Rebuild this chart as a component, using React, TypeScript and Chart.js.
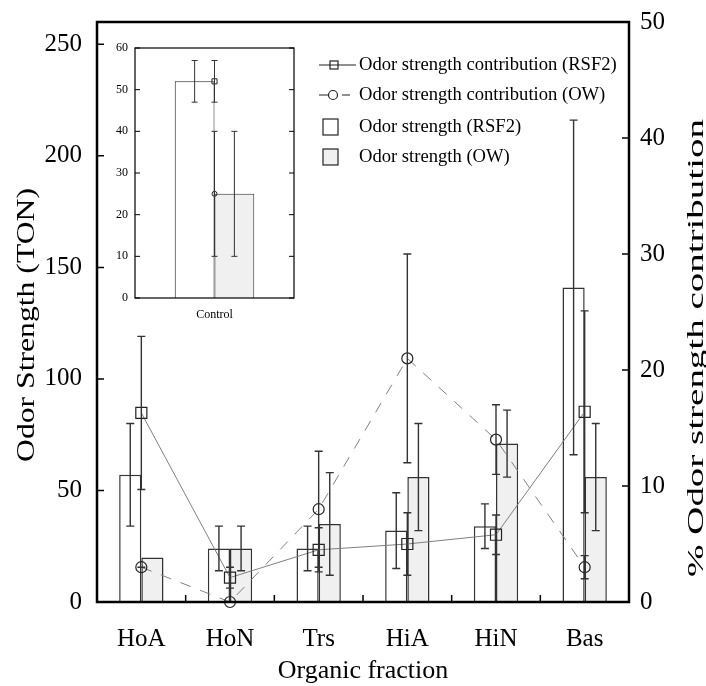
import React, { useEffect, useRef } from "react";
import { Chart, registerables } from "chart.js";
Chart.register(...registerables);

// ---------- data ----------
const categories = ["HoA", "HoN", "Trs", "HiA", "HiN", "Bas"];
const strengthRSF2 = [57, 24, 24, 32, 34, 141];
const strengthRSF2Err: (number | null)[] = [23, 10, 10, 17, 10, 75];
const strengthOW = [20, 24, 35, 56, 71, 56];
const strengthOWErr: (number | null)[] = [null, 10, 23, 24, 15, 24];
const contribRSF2 = [16.3, 2.1, 4.5, 5.0, 5.8, 16.4];
const contribRSF2Err: (number | null)[] = [6.6, 0.9, 1.9, 2.7, 1.7, 8.7];
const contribOW = [3, 0, 8, 21, 14, 3];
const contribOWErr: (number | null)[] = [0, null, 5, 9, 3, 1];
const leftTicks = [0, 50, 100, 150, 200, 250];
const rightTicks = [0, 10, 20, 30, 40, 50];

const insetCategories = ["Control"];
const insetStrengthRSF2 = [52];
const insetStrengthRSF2Err: (number | null)[] = [5];
const insetStrengthOW = [25];
const insetStrengthOWErr: (number | null)[] = [15];
const insetContribRSF2 = [52];
const insetContribRSF2Err: (number | null)[] = [5];
const insetContribOW = [25];
const insetContribOWErr: (number | null)[] = [15];
const insetTicks = [0, 10, 20, 30, 40, 50, 60];

const legendLabels = [
  "Odor strength contribution (RSF2)",
  "Odor strength contribution (OW)",
  "Odor strength (RSF2)",
  "Odor strength (OW)",
];

const SERIF = "'Liberation Serif', 'Times New Roman', serif";
Chart.defaults.font.family = SERIF;

// ---------- plugins ----------
function errorBarPlugin(cap: number, width: number, color: string) {
  return {
    id: "errorBars",
    afterDatasetsDraw(chart: any) {
      const ctx = chart.ctx;
      ctx.save();
      ctx.strokeStyle = color;
      ctx.lineWidth = width;
      chart.data.datasets.forEach((ds: any, i: number) => {
        if (!ds.errors) return;
        const meta = chart.getDatasetMeta(i);
        const scale = chart.scales[meta.yAxisID];
        meta.data.forEach((el: any, j: number) => {
          const e = ds.errors[j];
          if (e === null || e === undefined) return;
          const v = ds.data[j];
          const x = el.x;
          const yt = scale.getPixelForValue(v + e);
          const yb = scale.getPixelForValue(Math.max(0, v - e));
          ctx.beginPath();
          ctx.moveTo(x, yt);
          ctx.lineTo(x, yb);
          ctx.moveTo(x - cap, yt);
          ctx.lineTo(x + cap, yt);
          ctx.moveTo(x - cap, yb);
          ctx.lineTo(x + cap, yb);
          ctx.stroke();
        });
      });
      ctx.restore();
    },
  };
}

function framePlugin(opts: {
  width: number;
  tick: number;
  tickWidth: number;
  left: number[];
  leftAxis: string;
  right: number[];
  rightAxis: string;
  xTicks: boolean;
}) {
  return {
    id: "frame",
    afterDraw(chart: any) {
      const { ctx, chartArea: a } = chart;
      ctx.save();
      ctx.strokeStyle = "#000";
      ctx.lineWidth = opts.tickWidth;
      const ls = chart.scales[opts.leftAxis];
      const rs = chart.scales[opts.rightAxis];
      ctx.beginPath();
      opts.left.forEach((v) => {
        const y = ls.getPixelForValue(v);
        ctx.moveTo(a.left, y);
        ctx.lineTo(a.left + opts.tick, y);
      });
      opts.right.forEach((v) => {
        const y = rs.getPixelForValue(v);
        ctx.moveTo(a.right, y);
        ctx.lineTo(a.right - opts.tick, y);
      });
      if (opts.xTicks) {
        const xs = chart.scales.x;
        const n = chart.data.labels.length;
        for (let i = 0; i < n - 1; i++) {
          const x = (xs.getPixelForValue(i) + xs.getPixelForValue(i + 1)) / 2;
          ctx.moveTo(x, a.bottom);
          ctx.lineTo(x, a.bottom - opts.tick);
        }
      }
      ctx.stroke();
      ctx.lineWidth = opts.width;
      ctx.strokeRect(a.left, a.top, a.right - a.left, a.bottom - a.top);
      ctx.restore();
    },
  };
}

function drawVText(ctx: any, text: string, x: number, y: number, size: number, len: number) {
  ctx.save();
  ctx.font = `${size}px ${SERIF}`;
  const w = ctx.measureText(text).width;
  ctx.translate(x, y);
  ctx.rotate(-Math.PI / 2);
  ctx.scale(len / w, 1);
  ctx.textAlign = "center";
  ctx.textBaseline = "alphabetic";
  ctx.fillStyle = "#000";
  ctx.fillText(text, 0, 0);
  ctx.restore();
}

const annotationPlugin = {
  id: "annot",
  afterDraw(chart: any) {
    const ctx = chart.ctx;
    // axis titles
    drawVText(ctx, "Odor Strength (TON)", 34, 325, 26, 274);
    drawVText(ctx, "% Odor strength contribution", 703, 348, 24, 458);
    ctx.save();
    ctx.fillStyle = "#000";
    ctx.font = `26px ${SERIF}`;
    ctx.textAlign = "center";
    ctx.textBaseline = "alphabetic";
    ctx.fillText("Organic fraction", 363, 678);

    // legend
    const tx = 359;
    const rows = [65, 95, 127, 157];
    ctx.font = `18.6px ${SERIF}`;
    ctx.textAlign = "left";
    ctx.textBaseline = "middle";
    legendLabels.forEach((t, i) => ctx.fillText(t, tx, rows[i]));

    ctx.strokeStyle = "#222";
    ctx.lineWidth = 1.2;
    // row 1: solid line with square
    ctx.beginPath();
    ctx.moveTo(319, rows[0]);
    ctx.lineTo(356, rows[0]);
    ctx.stroke();
    ctx.strokeRect(330, rows[0] - 4, 8, 8);
    // row 2: dashed line with circle
    ctx.beginPath();
    ctx.moveTo(319, rows[1]);
    ctx.lineTo(328, rows[1]);
    ctx.moveTo(342, rows[1]);
    ctx.lineTo(350, rows[1]);
    ctx.stroke();
    ctx.beginPath();
    ctx.arc(333, rows[1], 4.5, 0, Math.PI * 2);
    ctx.stroke();
    // rows 3,4 boxes
    ctx.fillStyle = "#ffffff";
    ctx.fillRect(323, rows[2] - 8, 15, 16);
    ctx.strokeRect(323, rows[2] - 8, 15, 16);
    ctx.fillStyle = "#f0f0f0";
    ctx.fillRect(323, rows[3] - 8, 15, 16);
    ctx.strokeRect(323, rows[3] - 8, 15, 16);
    ctx.restore();
  },
};

const noPad = (s: any) => {
  s.paddingTop = 0;
  s.paddingBottom = 0;
  s.paddingLeft = 0;
  s.paddingRight = 0;
};

// ---------- component ----------
export default function App() {
  const mainRef = useRef<HTMLCanvasElement>(null);
  const insetRef = useRef<HTMLCanvasElement>(null);

  useEffect(() => {
    const tickFont = { size: 25, family: SERIF };
    const main = new Chart(mainRef.current!, {
      type: "bar",
      data: {
        labels: categories,
        datasets: [
          {
            type: "line",
            label: legendLabels[0],
            data: contribRSF2,
            errors: contribRSF2Err,
            yAxisID: "y1",
            borderColor: "#808080",
            borderWidth: 1,
            pointStyle: "rect",
            pointRadius: 7.8,
            pointBorderColor: "#222",
            pointBackgroundColor: "rgba(0,0,0,0)",
            pointBorderWidth: 1.2,
            clip: false,
          } as any,
          {
            type: "line",
            label: legendLabels[1],
            data: contribOW,
            errors: contribOWErr,
            yAxisID: "y1",
            borderColor: "#808080",
            borderWidth: 1,
            borderDash: [11, 10],
            pointStyle: "circle",
            pointRadius: 5.5,
            pointBorderColor: "#222",
            pointBackgroundColor: "rgba(0,0,0,0)",
            pointBorderWidth: 1.2,
            clip: false,
          } as any,
          {
            type: "bar",
            label: legendLabels[2],
            data: strengthRSF2,
            errors: strengthRSF2Err,
            yAxisID: "y",
            backgroundColor: "#ffffff",
            borderColor: "#333",
            borderWidth: 1.5,
            barPercentage: 1,
            categoryPercentage: 0.5,
          } as any,
          {
            type: "bar",
            label: legendLabels[3],
            data: strengthOW,
            errors: strengthOWErr,
            yAxisID: "y",
            backgroundColor: "#f0f0f0",
            borderColor: "#333",
            borderWidth: 1.5,
            barPercentage: 1,
            categoryPercentage: 0.5,
          } as any,
        ],
      },
      options: {
        animation: false,
        responsive: false,
        devicePixelRatio: 1,
        layout: { padding: { top: 22, left: 0, right: 0, bottom: 0 } },
        plugins: { legend: { display: false }, tooltip: { enabled: false } },
        scales: {
          x: {
            type: "category",
            offset: true,
            grid: { display: false, drawTicks: false },
            border: { display: false },
            ticks: { font: tickFont, color: "#000", padding: 22, maxRotation: 0 },
            afterFit: (s: any) => {
              s.height = 84;
              noPad(s);
            },
          },
          y: {
            position: "left",
            min: 0,
            max: 260,
            grid: { display: false, drawTicks: false },
            border: { display: false },
            ticks: { font: tickFont, color: "#000", padding: 15, includeBounds: false },
            afterBuildTicks: (s: any) => {
              s.ticks = leftTicks.map((v) => ({ value: v }));
            },
            afterFit: (s: any) => {
              s.width = 97;
              noPad(s);
            },
          },
          y1: {
            position: "right",
            min: 0,
            max: 50,
            grid: { display: false, drawTicks: false },
            border: { display: false },
            ticks: { font: tickFont, color: "#000", padding: 11, includeBounds: false },
            afterBuildTicks: (s: any) => {
              s.ticks = rightTicks.map((v) => ({ value: v }));
            },
            afterFit: (s: any) => {
              s.width = 77;
              noPad(s);
            },
          },
        },
      } as any,
      plugins: [
        errorBarPlugin(4, 1.4, "#333"),
        framePlugin({
          width: 2.5,
          tick: 7,
          tickWidth: 1.5,
          left: leftTicks,
          leftAxis: "y",
          right: rightTicks,
          rightAxis: "y1",
          xTicks: true,
        }),
        annotationPlugin,
      ],
    });

    const insetFont = { size: 12, family: SERIF };
    const inset = new Chart(insetRef.current!, {
      type: "bar",
      data: {
        labels: insetCategories,
        datasets: [
          {
            type: "line",
            data: insetContribRSF2,
            errors: insetContribRSF2Err,
            yAxisID: "y",
            borderColor: "#808080",
            borderWidth: 1,
            pointStyle: "rect",
            pointRadius: 3.6,
            pointBorderColor: "#222",
            pointBackgroundColor: "rgba(0,0,0,0)",
            pointBorderWidth: 1,
            clip: false,
          } as any,
          {
            type: "line",
            data: insetContribOW,
            errors: insetContribOWErr,
            yAxisID: "y",
            borderColor: "#808080",
            borderWidth: 1,
            pointStyle: "circle",
            pointRadius: 2.5,
            pointBorderColor: "#222",
            pointBackgroundColor: "rgba(0,0,0,0)",
            pointBorderWidth: 1,
            clip: false,
          } as any,
          {
            type: "bar",
            data: insetStrengthRSF2,
            errors: insetStrengthRSF2Err,
            yAxisID: "y",
            backgroundColor: "#ffffff",
            borderColor: "#222",
            borderWidth: 1,
            barPercentage: 1,
            categoryPercentage: 0.5,
          } as any,
          {
            type: "bar",
            data: insetStrengthOW,
            errors: insetStrengthOWErr,
            yAxisID: "y",
            backgroundColor: "#f0f0f0",
            borderColor: "#333",
            borderWidth: 1,
            barPercentage: 1,
            categoryPercentage: 0.5,
          } as any,
        ],
      },
      options: {
        animation: false,
        responsive: false,
        devicePixelRatio: 1,
        layout: { padding: { top: 8, left: 0, right: 6, bottom: 0 } },
        plugins: { legend: { display: false }, tooltip: { enabled: false } },
        scales: {
          x: {
            type: "category",
            offset: true,
            grid: { display: false, drawTicks: false },
            border: { display: false },
            ticks: { font: insetFont, color: "#000", padding: 10, maxRotation: 0 },
            afterFit: (s: any) => {
              s.height = 32;
              noPad(s);
            },
          },
          y: {
            position: "left",
            min: 0,
            max: 60,
            grid: { display: false, drawTicks: false },
            border: { display: false },
            ticks: { font: insetFont, color: "#000", padding: 7, includeBounds: false },
            afterBuildTicks: (s: any) => {
              s.ticks = insetTicks.map((v) => ({ value: v }));
            },
            afterFit: (s: any) => {
              s.width = 35;
              noPad(s);
            },
          },
        },
      } as any,
      plugins: [
        errorBarPlugin(3, 1, "#333"),
        framePlugin({
          width: 1.2,
          tick: 5,
          tickWidth: 1,
          left: insetTicks,
          leftAxis: "y",
          right: insetTicks,
          rightAxis: "y",
          xTicks: false,
        }),
      ],
    });

    return () => {
      main.destroy();
      inset.destroy();
    };
  }, []);

  return (
    <div style={{ position: "fixed", left: 0, top: 0, width: 706, height: 686, background: "#fff" }}>
      <canvas
        ref={mainRef}
        width={706}
        height={686}
        style={{ position: "absolute", left: 0, top: 0, width: 706, height: 686 }}
      />
      <canvas
        ref={insetRef}
        width={200}
        height={290}
        style={{ position: "absolute", left: 100, top: 40, width: 200, height: 290 }}
      />
    </div>
  );
}
